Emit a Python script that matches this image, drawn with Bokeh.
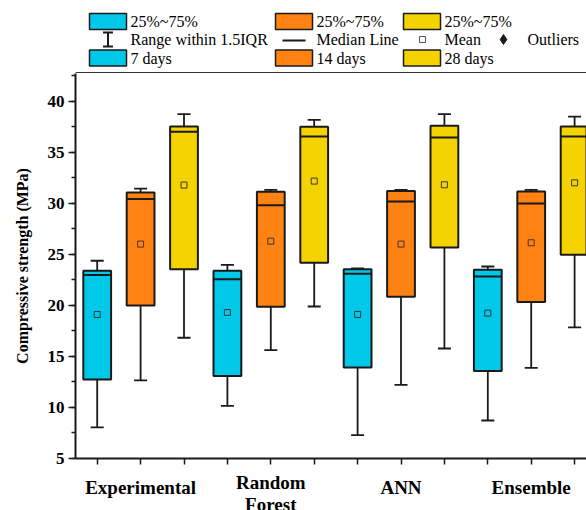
import numpy as np
from bokeh.plotting import figure
from bokeh.layouts import column
from bokeh.models import Range1d, FixedTicker, SingleIntervalTicker, ColumnDataSource
from bokeh.core.properties import value
from bokeh.embed import file_html
from bokeh.resources import INLINE

# ---- data -------------------------------------------------------------
models = ["Experimental", "Random Forest", "ANN", "Ensemble"]
ages = ["7 days", "14 days", "28 days"]
age_colors = ["#00C8E8", "#FF8213", "#F5D300"]

# box statistics (MPa), ordered model by model, 7 / 14 / 28 days each
whisker_low = [8.04, 12.64, 16.82,
               10.16, 15.61, 19.88,
               7.29, 12.21, 15.77,
               8.72, 13.88, 17.83]
q1 = [12.73, 19.98, 23.54,
      13.07, 19.85, 24.16,
      13.91, 20.83, 25.66,
      13.56, 20.31, 24.94]
median = [22.96, 30.40, 37.00,
          22.56, 29.80, 36.53,
          23.10, 30.16, 36.43,
          22.82, 29.97, 36.53]
q3 = [23.38, 31.04, 37.50,
      23.38, 31.11, 37.47,
      23.54, 31.18, 37.57,
      23.48, 31.14, 37.50]
whisker_high = [24.36, 31.43, 38.72,
                23.96, 31.30, 38.16,
                23.60, 31.30, 38.72,
                23.80, 31.30, 38.48]
mean = [19.10, 25.99, 31.77,
        19.30, 26.28, 32.16,
        19.10, 25.99, 31.80,
        19.23, 26.12, 31.99]

# ---- styling ----------------------------------------------------------
SERIF = "Liberation Serif"
INK = "#1a1a1a"
BOX_W = 0.64
CAP_W = 0.30

n_age = len(ages)
pos = np.arange(1, len(models) * n_age + 1, dtype=float)
box_colors = [age_colors[i % n_age] for i in range(len(pos))]

src = ColumnDataSource(dict(
    x=pos, left=pos - BOX_W / 2, right=pos + BOX_W / 2,
    cap_l=pos - CAP_W / 2, cap_r=pos + CAP_W / 2,
    lo=whisker_low, q1=q1, med=median, q3=q3, hi=whisker_high,
    mean=mean, color=box_colors,
))

LEG_H = 73
FRAME_H = 385
AX_B = 14
TOTAL_H = 510
W = 586
LEFT = 75

# ---- main box plot ----------------------------------------------------
p = figure(width=W, height=FRAME_H + AX_B,
           x_range=Range1d(0.5, 12.274), y_range=Range1d(5, 5 + FRAME_H / 10.214),
           output_backend="svg", toolbar_location=None,
           min_border_left=LEFT, min_border_right=0, min_border_top=0,
           min_border_bottom=AX_B)
p.xgrid.grid_line_color = None
p.ygrid.grid_line_color = None
p.outline_line_color = None

# whiskers and caps
p.segment(x0="x", y0="q3", x1="x", y1="hi", source=src, line_color=INK, line_width=1.8)
p.segment(x0="x", y0="q1", x1="x", y1="lo", source=src, line_color=INK, line_width=1.8)
p.segment(x0="cap_l", y0="hi", x1="cap_r", y1="hi", source=src, line_color=INK, line_width=1.8)
p.segment(x0="cap_l", y0="lo", x1="cap_r", y1="lo", source=src, line_color=INK, line_width=1.8)
# interquartile boxes
p.vbar(x="x", width=BOX_W, bottom="q1", top="q3", source=src,
       fill_color="color", line_color=INK, line_width=2)
# medians
p.segment(x0="left", y0="med", x1="right", y1="med", source=src, line_color=INK, line_width=2)
# means
p.scatter(x="x", y="mean", source=src, marker="square", size=6,
          fill_color="color", line_color="#3a3a3a", line_width=1)

# axes (x ticks only; category names are set in the strip below)
xa = p.xaxis[0]
xa.ticker = FixedTicker(ticks=list(pos))
xa.major_label_overrides = {float(t): "" for t in pos}
xa.major_tick_out = 6
xa.major_tick_in = 0
xa.minor_tick_line_color = None
xa.major_label_text_font_size = "0px"
xa.major_label_standoff = 0
xa.axis_line_width = 2
xa.axis_line_color = INK
xa.major_tick_line_width = 1.5
xa.major_tick_line_color = INK

ya = p.yaxis[0]
ya.ticker = SingleIntervalTicker(interval=5, num_minor_ticks=2)
ya.major_tick_out = 7
ya.major_tick_in = 0
ya.minor_tick_out = 4
ya.minor_tick_in = 0
ya.axis_line_width = 2
ya.axis_line_color = INK
ya.major_tick_line_width = 1.5
ya.minor_tick_line_width = 1.5
ya.major_tick_line_color = INK
ya.minor_tick_line_color = INK
ya.major_label_text_font = SERIF
ya.major_label_text_font_style = "bold"
ya.major_label_text_font_size = "17px"
ya.major_label_text_color = "black"
ya.major_label_standoff = 4
ya.axis_label = "Compressive strength (MPa)"
ya.axis_label_text_font = SERIF
ya.axis_label_text_font_style = "bold"
ya.axis_label_text_font_size = "16px"
ya.axis_label_text_color = "black"
ya.axis_label_standoff = 14

# ---- category labels strip under the axis -----------------------------
lab_h = TOTAL_H - LEG_H - (FRAME_H + AX_B)
lab = figure(width=W, height=lab_h, x_range=p.x_range, y_range=Range1d(lab_h, 0),
             output_backend="svg", toolbar_location=None,
             x_axis_location=None, y_axis_location=None,
             min_border_left=LEFT, min_border_right=0, min_border_top=0, min_border_bottom=0)
lab.xgrid.grid_line_color = None
lab.ygrid.grid_line_color = None
lab.outline_line_color = None
centers = pos[1::n_age]
lab.text(x=list(centers), y=[15, 21, 15, 15],
         text=[m.replace(" ", "\n") for m in models],
         text_font=value(SERIF), text_font_style="bold", text_font_size="19px",
         text_align="center", text_baseline="middle", text_line_height=1.08,
         text_color="black")

# ---- legend block above the plot (x in canvas pixels) -----------------
leg = figure(width=W, height=LEG_H, x_range=Range1d(LEFT, W), y_range=Range1d(LEG_H, 0),
             output_backend="svg", toolbar_location=None,
             x_axis_location=None, y_axis_location=None,
             min_border_left=LEFT, min_border_right=0, min_border_top=0, min_border_bottom=0)
leg.xgrid.grid_line_color = None
leg.ygrid.grid_line_color = None
leg.outline_line_color = None

sw_left = np.array([89.0, 275.0, 403.0])
SW_W, SW_H = 37, 16
row_y = [21, 39, 57.5]
for ry in (row_y[0], row_y[2]):
    leg.quad(left=sw_left, right=sw_left + SW_W, top=ry - SW_H / 2, bottom=ry + SW_H / 2,
             fill_color=age_colors, line_color=INK, line_width=1.5)

txt_x = list(sw_left + SW_W + 4)
leg.text(x=txt_x * 2, y=[row_y[0]] * 3 + [row_y[2]] * 3,
         text=["25%~75%"] * 3 + ages,
         text_font=value(SERIF), text_font_size="16px", text_baseline="middle",
         text_color="black")

# range-within-1.5IQR glyph
ix = sw_left[0] + SW_W / 2
leg.segment(x0=[ix, ix - 5, ix - 5], y0=[32, 32, 46], x1=[ix, ix + 5, ix + 5], y1=[46, 32, 46],
            line_color=INK, line_width=2)
# median line glyph
leg.segment(x0=[sw_left[1] + 7], y0=[40], x1=[sw_left[1] + 30], y1=[40], line_color=INK, line_width=2)
# mean and outlier glyphs
leg.scatter(x=[sw_left[2] + 19], y=[39], marker="square", size=6,
            fill_color="white", line_color="#555555", line_width=1)
leg.scatter(x=[503], y=[39], marker="diamond", size=10, fill_color=INK, line_color=INK)
leg.text(x=[txt_x[0], txt_x[1], txt_x[2], 527], y=[row_y[1]] * 4,
         text=["Range within 1.5IQR", "Median Line", "Mean", "Outliers"],
         text_font=value(SERIF), text_font_size="16px", text_baseline="middle",
         text_color="black")
# rule separating the legend from the plot
leg.segment(x0=[LEFT], y0=[LEG_H - 0.8], x1=[W], y1=[LEG_H - 0.8], line_color="#333333", line_width=1.6)

layout = column(leg, p, lab, spacing=0)
open("out.html", "w").write(file_html(layout, INLINE))
